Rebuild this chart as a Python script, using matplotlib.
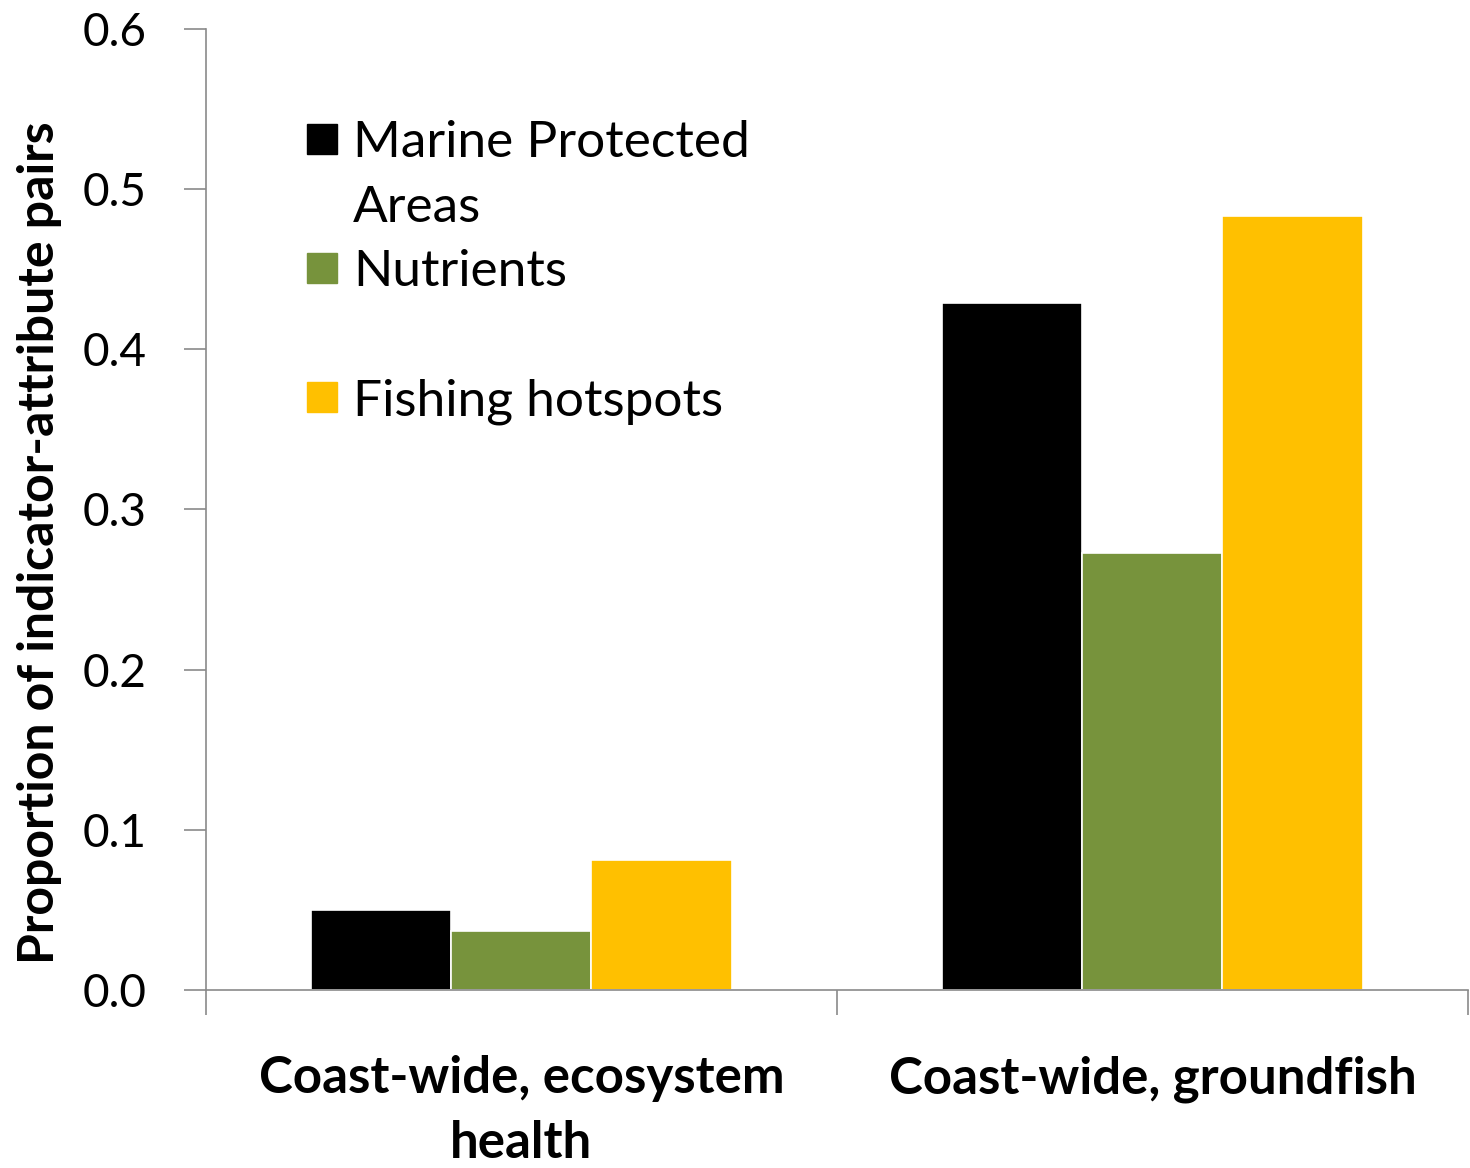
import numpy as np
import matplotlib.pyplot as plt
from matplotlib.lines import Line2D

# --------------------------------------------------
# DATA
# --------------------------------------------------

categories = ["Coast-wide, ecosystem\nhealth", "Coast-wide, groundfish"]
series_names = ["Marine Protected\nAreas", "Nutrients", "Fishing hotspots"]
mpa = [0.050, 0.429]
nutrients = [0.037, 0.273]
fishing = [0.081, 0.483]
series_colors = ["#000000", "#77933C", "#FFC000"]
y_ticks = [0.0, 0.1, 0.2, 0.3, 0.4, 0.5, 0.6]

# --------------------------------------------------
# PLOT
# --------------------------------------------------

plt.rcParams['font.family'] = ['Lato', 'DejaVu Sans']
axis_grey = "#8a8a8a"

fig = plt.figure(figsize=(14.7, 11.68), dpi=100)
ax = fig.add_axes([0.1401, 0.1524, 0.8585, 0.8228])

x = np.arange(len(categories))
width = 0.222
for i, (vals, col) in enumerate(zip([mpa, nutrients, fishing], series_colors)):
    ax.bar(x + (i - 1) * width, vals, width, color=col,
           edgecolor="white", linewidth=1.2, zorder=2)

ax.set_xlim(-0.5, len(categories) - 0.5)
ax.set_ylim(0, 0.6)

# y axis
ax.set_yticks(y_ticks)
ax.set_yticklabels([f"{v:.1f}" for v in y_ticks], fontsize=33)
ax.tick_params(axis="y", length=16, width=1.2, color=axis_grey, pad=27)

# x axis: ticks between categories, labels at centres
ax.set_xticks(np.arange(len(categories) + 1) - 0.5)
ax.set_xticklabels([])
ax.tick_params(axis="x", which="major", length=18, width=1.2, color=axis_grey)
ax.set_xticks(x, minor=True)
ax.set_xticklabels(categories, minor=True, fontsize=36.7, fontweight="bold",
                   linespacing=1.47)
ax.tick_params(axis="x", which="minor", length=0, pad=47)

for side in ["top", "right"]:
    ax.spines[side].set_visible(False)
for side in ["left", "bottom"]:
    ax.spines[side].set_color(axis_grey)
    ax.spines[side].set_linewidth(1.2)

ax.set_ylabel("Proportion of indicator-attribute pairs", fontsize=36,
              fontweight="bold")
ax.yaxis.set_label_coords(-0.114, 0.465)

# legend (Excel-style spacing: wrapped label, gap row)
first, second = series_names[0].split("\n")
blank = Line2D([], [], linestyle="none", marker="none")
handles = [
    Line2D([], [], linestyle="none", marker="s", markersize=21,
           color=series_colors[0]),
    blank,
    Line2D([], [], linestyle="none", marker="s", markersize=21,
           color=series_colors[1]),
    blank,
    Line2D([], [], linestyle="none", marker="s", markersize=21,
           color=series_colors[2]),
]
labels = [first, second, series_names[1], "", series_names[2]]
ax.legend(handles, labels, loc="upper left", bbox_to_anchor=(0.080, 0.905),
          frameon=False, fontsize=37, handlelength=0.6, handletextpad=0.3,
          labelspacing=0.36, borderpad=0, borderaxespad=0)

fig.savefig("out.png", dpi=100, facecolor="white")
